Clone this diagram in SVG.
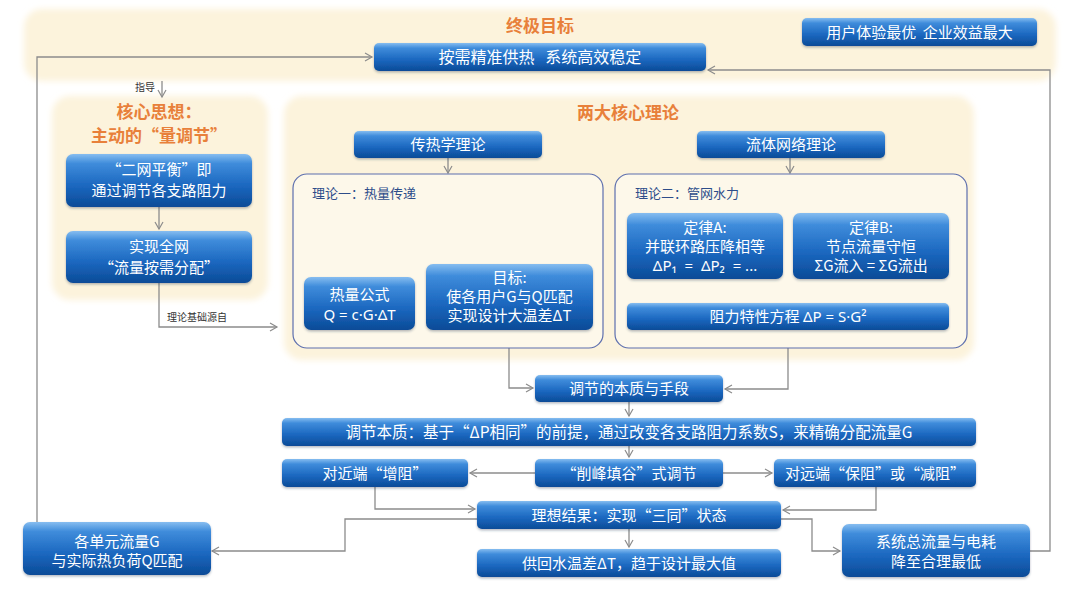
<svg xmlns="http://www.w3.org/2000/svg" width="1080" height="608" viewBox="0 0 1080 608">
<defs>
<linearGradient id="blue" x1="0" y1="0" x2="0" y2="1">
<stop offset="0" stop-color="#86bdf0"/>
<stop offset="0.18" stop-color="#3f8cdb"/>
<stop offset="0.6" stop-color="#1b67bf"/>
<stop offset="1" stop-color="#0b4b97"/>
</linearGradient>
<filter id="soft" x="-5%" y="-10%" width="110%" height="120%"><feGaussianBlur stdDeviation="3"/></filter>
<filter id="sh" x="-10%" y="-20%" width="120%" height="150%"><feDropShadow dx="0" dy="1.5" stdDeviation="1.2" flood-color="#2a3a55" flood-opacity="0.35"/></filter>
<marker id="arr" markerWidth="10" markerHeight="10" refX="8" refY="5" orient="auto" markerUnits="userSpaceOnUse">
<path d="M1,1 L8,5 L1,9" fill="none" stroke="#8c8c8c" stroke-width="1.2"/>
</marker>
<style>
.panel{fill:#fcf3dc;filter:url(#soft)}
.box{fill:url(#blue);filter:url(#sh)}
.bt{font-family:"Noto Sans CJK SC","Noto Sans",sans-serif;fill:#ffffff;text-anchor:middle}
.fx{font-family:"Noto Sans","Noto Sans CJK SC",sans-serif}
.ttl{font-family:"Noto Sans CJK SC","Noto Sans",sans-serif;fill:#e8803a;font-weight:bold;text-anchor:middle}
.lbl{font-family:"Noto Sans CJK SC","Noto Sans",sans-serif;fill:#333;font-size:10px}
.sub{font-family:"Noto Sans CJK SC","Noto Sans",sans-serif;fill:#2d4d8a;font-size:13px}
.inner{fill:#fdf8ea;stroke:#5d6fae;stroke-width:1.2}
.con{fill:none;stroke:#8c8c8c;stroke-width:1.3;marker-end:url(#arr)}
</style>
</defs>
<rect width="1080" height="608" fill="#ffffff"/>

<g id="panels">
<rect class="panel" x="24" y="9" width="1032" height="72" rx="18"/>
<rect class="panel" x="52" y="96" width="216" height="204" rx="18"/>
<rect class="panel" x="284" y="96" width="690" height="264" rx="18"/>
</g>

<g id="connectors">
<path class="con" d="M37,522 V57 H372"/>
<path class="con" d="M1029,551 H1050 V70 H708"/>
<path class="con" d="M162,81 V97"/>
<path class="con" d="M159,207 V229"/>
<path class="con" d="M159,283 V327 H277"/>
<path class="con" d="M448,158 V173"/>
<path class="con" d="M790,158 V173"/>
<path class="con" d="M706,279 V301"/>
<path class="con" d="M872,279 V301"/>
<path class="con" d="M509,330 V388 H533"/>
<path class="con" d="M788,330 V389 H725"/>
<path class="con" d="M629,402 V416"/>
<path class="con" d="M629,446 V457"/>
<path class="con" d="M535,473 H470"/>
<path class="con" d="M723,473 H772"/>
<path class="con" d="M375,487 V509 H475"/>
<path class="con" d="M876,487 V510 H783"/>
<path class="con" d="M477,519 H345 V551 H212"/>
<path class="con" d="M781,519 H812 V551 H840"/>
<path class="con" d="M629,529 V547"/>
<text class="lbl" x="135" y="91" font-size="9">指导</text>
<text class="lbl" x="167" y="321">理论基础源自</text>
</g>

<g id="title-top"><text class="ttl" x="540" y="32" font-size="17">终极目标</text></g>
<g id="goal">
<rect class="box" x="374" y="43" width="332" height="28" rx="5"/>
<text class="bt" x="540" y="63" font-size="16" xml:space="preserve">按需精准供热   系统高效稳定</text>
</g>
<g id="benefit">
<rect class="box" x="802" y="18" width="235" height="28" rx="5"/>
<text class="bt" x="919.5" y="37.5" font-size="15" xml:space="preserve">用户体验最优  企业效益最大</text>
</g>

<g id="core-title">
<text class="ttl" x="159" y="118" font-size="17">核心思想：</text>
<text class="ttl" x="159" y="142" font-size="17">主动的“量调节”</text>
</g>
<g id="balance">
<rect class="box" x="66" y="154" width="186" height="53" rx="7"/>
<text class="bt" x="159" y="175" font-size="15">“二网平衡”即</text>
<text class="bt" x="159" y="196" font-size="15">通过调节各支路阻力</text>
</g>
<g id="ondemand">
<rect class="box" x="66" y="231" width="186" height="52" rx="7"/>
<text class="bt" x="159" y="252" font-size="15">实现全网</text>
<text class="bt" x="159" y="273" font-size="15">“流量按需分配”</text>
</g>

<g id="theory-title"><text class="ttl" x="628" y="119" font-size="17">两大核心理论</text></g>
<g id="heat-theory">
<rect class="box" x="354" y="131" width="188" height="27" rx="5"/>
<text class="bt" x="448" y="150" font-size="15">传热学理论</text>
</g>
<g id="fluid-theory">
<rect class="box" x="697" y="131" width="188" height="27" rx="5"/>
<text class="bt" x="791" y="150" font-size="15">流体网络理论</text>
</g>
<g id="theory1">
<rect class="inner" x="293" y="174" width="310" height="174" rx="14"/>
<text class="sub" x="312" y="198">理论一：热量传递</text>
</g>
<g id="theory2">
<rect class="inner" x="615" y="174" width="352" height="174" rx="14"/>
<text class="sub" x="635" y="198">理论二：管网水力</text>
</g>
<g id="heat-formula">
<rect class="box" x="304" y="277" width="111" height="53" rx="7"/>
<text class="bt" x="359.5" y="300" font-size="15">热量公式</text>
<text class="bt fx" x="359.5" y="320" font-size="15">Q = c·G·ΔT</text>
</g>
<g id="target">
<rect class="box" x="426" y="264" width="167" height="66" rx="7"/>
<text class="bt" x="509.5" y="283" font-size="15">目标:</text>
<text class="bt" x="509.5" y="302" font-size="15">使各用户G与Q匹配</text>
<text class="bt" x="509.5" y="321" font-size="15">实现设计大温差ΔT</text>
</g>
<g id="lawA">
<rect class="box" x="627" y="213" width="156" height="66" rx="7"/>
<text class="bt" x="705" y="233" font-size="15">定律A:</text>
<text class="bt" x="705" y="252" font-size="15">并联环路压降相等</text>
<text class="bt fx" x="705" y="271" font-size="15" xml:space="preserve">ΔP₁  =  ΔP₂  = ...</text>
</g>
<g id="lawB">
<rect class="box" x="793" y="213" width="156" height="66" rx="7"/>
<text class="bt" x="871" y="233" font-size="15">定律B:</text>
<text class="bt" x="871" y="252" font-size="15">节点流量守恒</text>
<text class="bt" x="871" y="271" font-size="15">ΣG流入 = ΣG流出</text>
</g>
<g id="resistance">
<rect class="box" x="627" y="303" width="322" height="27" rx="5"/>
<text class="bt" x="788" y="322" font-size="15">阻力特性方程 <tspan class="fx">ΔP = S·G²</tspan></text>
</g>

<g id="essence-means">
<rect class="box" x="535" y="375" width="188" height="27" rx="5"/>
<text class="bt" x="629" y="394" font-size="15">调节的本质与手段</text>
</g>
<g id="essence">
<rect class="box" x="282" y="418" width="694" height="28" rx="5"/>
<text class="bt" x="629" y="437.5" font-size="15.5">调节本质：基于“ΔP相同”的前提，通过改变各支路阻力系数S，来精确分配流量G</text>
</g>
<g id="near">
<rect class="box" x="282" y="459" width="186" height="28" rx="5"/>
<text class="bt" x="375" y="478.5" font-size="15">对近端“增阻”</text>
</g>
<g id="peak">
<rect class="box" x="535" y="459" width="188" height="28" rx="5"/>
<text class="bt" x="629" y="478.5" font-size="15">“削峰填谷”式调节</text>
</g>
<g id="far">
<rect class="box" x="774" y="459" width="202" height="28" rx="5"/>
<text class="bt" x="875" y="478.5" font-size="15">对远端“保阻”或“减阻”</text>
</g>
<g id="ideal">
<rect class="box" x="477" y="501" width="304" height="28" rx="5"/>
<text class="bt" x="629" y="520.5" font-size="15">理想结果：实现“三同”状态</text>
</g>
<g id="deltaT">
<rect class="box" x="477" y="549" width="304" height="28" rx="5"/>
<text class="bt" x="629" y="568.5" font-size="15">供回水温差ΔT，趋于设计最大值</text>
</g>
<g id="unit-flow">
<rect class="box" x="23" y="522" width="188" height="53" rx="7"/>
<text class="bt" x="117" y="546.5" font-size="15">各单元流量G</text>
<text class="bt" x="117" y="566" font-size="15">与实际热负荷Q匹配</text>
</g>
<g id="system-flow">
<rect class="box" x="842" y="524" width="188" height="53" rx="7"/>
<text class="bt" x="936" y="547" font-size="15">系统总流量与电耗</text>
<text class="bt" x="936" y="566.5" font-size="15">降至合理最低</text>
</g>
</svg>
